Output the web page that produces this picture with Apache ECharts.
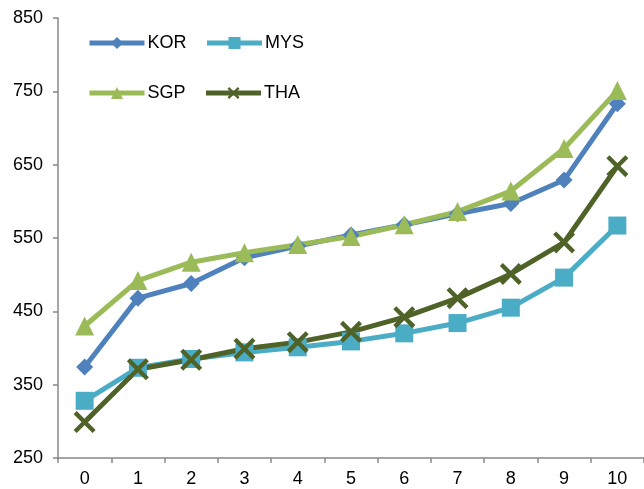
<!DOCTYPE html>
<html>
<head>
<meta charset="utf-8">
<script src="https://cdn.jsdelivr.net/npm/echarts@6/dist/echarts.min.js"></script>
<style>
  html, body { margin: 0; padding: 0; background: #fff; }
  #chart { width: 644px; height: 489px; }
</style>
</head>
<body>
<div id="chart"></div>
<script>
// x categories and series
const categories = ['0', '1', '2', '3', '4', '5', '6', '7', '8', '9', '10'];
const kor = [374, 468, 488, 523, 539, 554, 568, 583, 597, 629, 733];
const mys = [328, 373, 385, 394, 401, 409, 420, 434, 455, 496, 567];
const sgp = [430, 492, 517, 530, 541, 552, 568, 586, 614, 672, 751];
const tha = [299, 371, 384, 399, 408, 422, 442, 468, 501, 544, 648];
const yTicks = [250, 350, 450, 550, 650, 750, 850];

const xMark = 'path://M0,1.4L1.4,0L10,8.6L8.6,10Z M8.6,0L10,1.4L1.4,10L0,8.6Z';
const font = 'Liberation Sans, Arial, sans-serif';

const chart = echarts.init(document.getElementById('chart'));

function line(name, data, color, symbol, size) {
  return {
    name: name,
    type: 'line',
    data: data,
    symbol: symbol,
    symbolSize: size,
    showAllSymbol: true,
    lineStyle: { color: color, width: 5 },
    itemStyle: { color: color },
    emphasis: { disabled: true },
    animation: false,
    z: 2
  };
}

const legendText = { fontFamily: font, fontSize: 18, color: '#000', padding: [0, 0, 0, -2] };

chart.setOption({
  backgroundColor: '#fff',
  grid: { left: 58, right: -3, top: 18, bottom: 31 },
  legend: [
    {
      data: ['KOR', 'MYS'], left: 87, top: 34, padding: 0,
      itemWidth: 55, itemHeight: 15, itemGap: 18,
      lineStyle: { width: 5 }, textStyle: legendText
    },
    {
      data: ['SGP', 'THA'], left: 87, top: 84, padding: 0,
      itemWidth: 55, itemHeight: 15, itemGap: 18,
      lineStyle: { width: 5 }, textStyle: legendText
    }
  ],
  xAxis: {
    type: 'category',
    data: categories,
    boundaryGap: true,
    axisLine: { lineStyle: { color: '#888', width: 1.5 } },
    axisTick: { show: true, alignWithLabel: false, length: 5, lineStyle: { color: '#888', width: 1.5 } },
    axisLabel: { fontFamily: font, fontSize: 18, color: '#000', margin: 12 },
    splitLine: { show: false }
  },
  yAxis: {
    type: 'value',
    min: yTicks[0],
    max: yTicks[yTicks.length - 1],
    interval: 100,
    axisLine: { show: true, lineStyle: { color: '#888', width: 1.5 } },
    axisTick: { show: true, length: 5, lineStyle: { color: '#888', width: 1.5 } },
    axisLabel: { fontFamily: font, fontSize: 18, color: '#000', margin: 15 },
    splitLine: { show: false }
  },
  series: [
    line('KOR', kor, '#4F81BD', 'diamond', 17),
    line('MYS', mys, '#4BACC6', 'rect', 18),
    line('SGP', sgp, '#9BBB59', 'triangle', 19),
    line('THA', tha, '#4F6228', xMark, 22)
  ]
});
</script>
</body>
</html>
